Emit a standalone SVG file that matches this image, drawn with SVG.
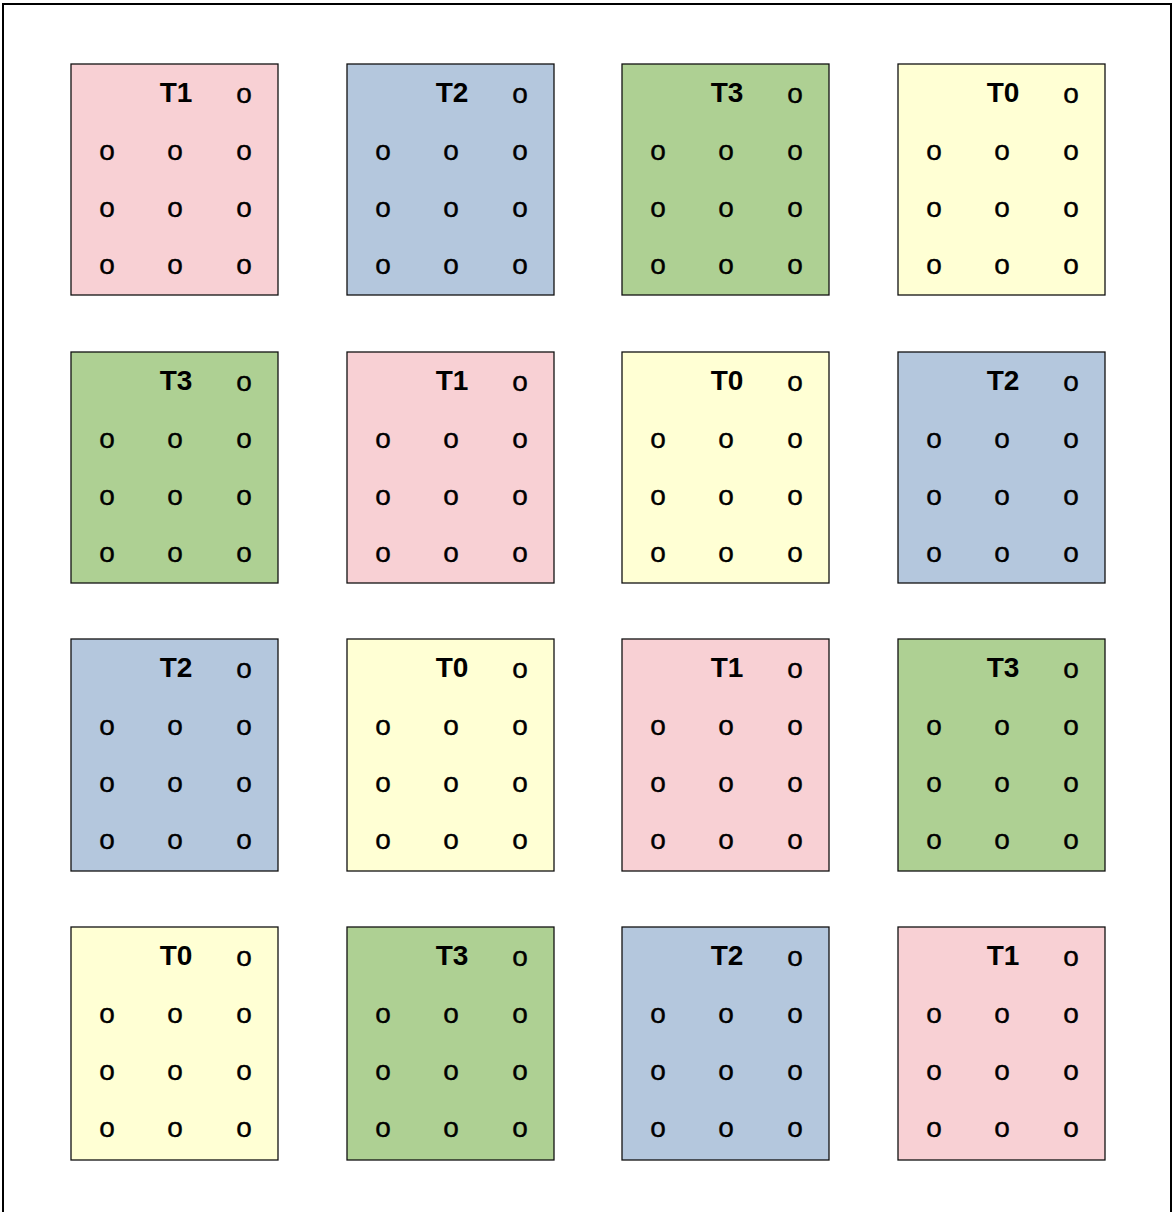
<svg xmlns="http://www.w3.org/2000/svg" width="1173" height="1212" viewBox="0 0 1173 1212">
<defs>
<style>
.frame{fill:none;stroke:#000;stroke-width:2}
.box{stroke:#111;stroke-width:1.3}
.c0{fill:#FFFFD4}.c1{fill:#F8D0D4}.c2{fill:#B4C7DD}.c3{fill:#AED093}
.t{font-family:"Liberation Sans",Arial,sans-serif;font-size:28px;font-weight:bold;fill:#000;text-anchor:middle}
.o{font-family:"Liberation Sans",Arial,sans-serif;font-size:28px;fill:#000;stroke:#000;stroke-width:0.4;text-anchor:middle}
</style>
<g id="cells">
<text class="o" x="173" y="39">o</text>
<text class="o" x="36" y="96">o</text><text class="o" x="104" y="96">o</text><text class="o" x="173" y="96">o</text>
<text class="o" x="36" y="153">o</text><text class="o" x="104" y="153">o</text><text class="o" x="173" y="153">o</text>
<text class="o" x="36" y="210">o</text><text class="o" x="104" y="210">o</text><text class="o" x="173" y="210">o</text>
</g>
</defs>
<rect width="1173" height="1212" fill="#fff"/>
<rect class="frame" x="3" y="4" width="1168" height="1220"/>

<g id="n11" transform="translate(71,64)"><rect class="box c1" width="207" height="231"/><text class="t" x="105" y="38">T1</text><use href="#cells"/></g>
<g id="n12" transform="translate(347,64)"><rect class="box c2" width="207" height="231"/><text class="t" x="105" y="38">T2</text><use href="#cells"/></g>
<g id="n13" transform="translate(622,64)"><rect class="box c3" width="207" height="231"/><text class="t" x="105" y="38">T3</text><use href="#cells"/></g>
<g id="n14" transform="translate(898,64)"><rect class="box c0" width="207" height="231"/><text class="t" x="105" y="38">T0</text><use href="#cells"/></g>

<g id="n21" transform="translate(71,352)"><rect class="box c3" width="207" height="231"/><text class="t" x="105" y="38">T3</text><use href="#cells"/></g>
<g id="n22" transform="translate(347,352)"><rect class="box c1" width="207" height="231"/><text class="t" x="105" y="38">T1</text><use href="#cells"/></g>
<g id="n23" transform="translate(622,352)"><rect class="box c0" width="207" height="231"/><text class="t" x="105" y="38">T0</text><use href="#cells"/></g>
<g id="n24" transform="translate(898,352)"><rect class="box c2" width="207" height="231"/><text class="t" x="105" y="38">T2</text><use href="#cells"/></g>

<g id="n31" transform="translate(71,639)"><rect class="box c2" width="207" height="232"/><text class="t" x="105" y="38">T2</text><use href="#cells"/></g>
<g id="n32" transform="translate(347,639)"><rect class="box c0" width="207" height="232"/><text class="t" x="105" y="38">T0</text><use href="#cells"/></g>
<g id="n33" transform="translate(622,639)"><rect class="box c1" width="207" height="232"/><text class="t" x="105" y="38">T1</text><use href="#cells"/></g>
<g id="n34" transform="translate(898,639)"><rect class="box c3" width="207" height="232"/><text class="t" x="105" y="38">T3</text><use href="#cells"/></g>

<g id="n41" transform="translate(71,927)"><rect class="box c0" width="207" height="233"/><text class="t" x="105" y="38">T0</text><use href="#cells"/></g>
<g id="n42" transform="translate(347,927)"><rect class="box c3" width="207" height="233"/><text class="t" x="105" y="38">T3</text><use href="#cells"/></g>
<g id="n43" transform="translate(622,927)"><rect class="box c2" width="207" height="233"/><text class="t" x="105" y="38">T2</text><use href="#cells"/></g>
<g id="n44" transform="translate(898,927)"><rect class="box c1" width="207" height="233"/><text class="t" x="105" y="38">T1</text><use href="#cells"/></g>

<g id="connectors"/>
</svg>
